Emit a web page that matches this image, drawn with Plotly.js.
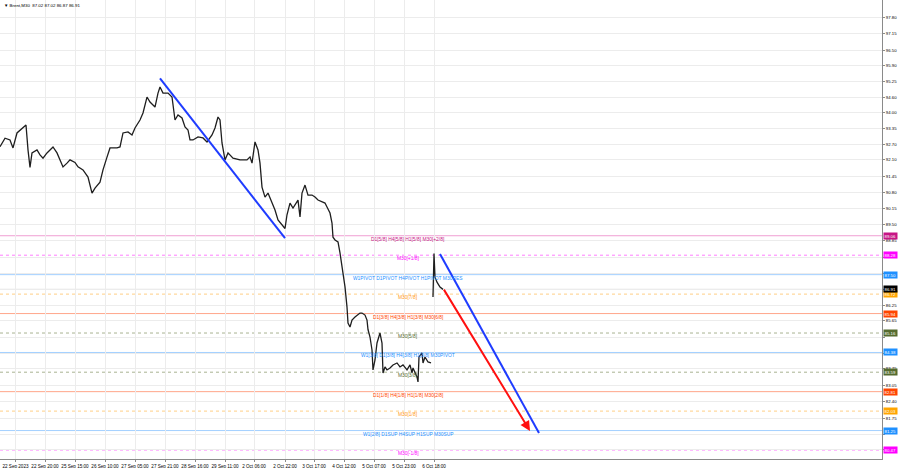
<!DOCTYPE html>
<html>
<head>
<meta charset="utf-8">
<script src="https://cdn.plot.ly/plotly-3.0.1.min.js"></script>
<style>html,body{margin:0;padding:0;background:#fff;}#chart{width:900px;height:468px;}</style>
</head>
<body>
<div id="chart"></div>
<script>
// ---- data ----
// bar position (slot along time axis) and price of the Brent M30 path
const barPos = [0,5,10,13,17,23,26,28,30,32,37,40,43,47,52,53,57,60,63,67,70,75,78,83,88,92,95,100,103,107,110,117,120,123,128,132,135,140,143,147,150,153,155,158,160,163,168,172,173,175,178,182,185,188,190,193,198,203,207,212,215,218,220,222,225,228,233,240,247,250,252,255,258,260,262,265,268,272,275,278,282,285,287,290,293,298,300,302,305,308,312,315,318,322,325,327,330,332,333,335,338,340,342,343,345,347,348,350,352,355,358,360,362,365,367,368,370,372,373,375,377,378,380,382,383,385,387,390,393,397,400,403,407,410,412,413,417,418,419,422,423,425,427,428,431,432,433,434,435,437,440,443];
const price = [92.63,92.97,92.90,92.58,93.18,93.38,93.50,92.50,91.80,92.38,92.50,92.30,92.17,92.38,92.58,92.62,92.38,92.10,91.82,91.97,92.10,92.00,91.82,91.70,91.41,90.77,90.97,91.21,91.70,92.21,92.58,92.58,92.62,93.18,93.22,93.10,93.38,93.70,93.98,94.62,94.42,94.30,94.22,94.78,95.02,94.78,94.78,94.62,94.22,93.70,93.90,93.78,93.42,93.30,92.90,92.90,93.02,92.98,92.82,93.10,93.38,93.82,93.70,92.78,92.10,92.38,92.17,92.10,92.10,92.22,91.97,92.82,92.50,91.97,91.01,90.61,90.77,90.37,90.09,89.69,89.50,89.35,89.90,90.37,90.17,90.49,89.81,90.77,91.09,90.69,90.69,90.61,90.49,90.41,90.37,90.21,89.97,89.57,89.00,88.89,88.81,88.37,87.81,87.41,87.01,86.20,85.56,85.40,85.68,85.80,85.88,85.96,85.96,85.88,85.68,85.30,85.00,84.48,83.68,84.08,84.76,84.88,85.16,84.76,83.56,83.80,83.68,83.76,83.88,83.96,83.80,83.88,83.68,83.88,83.56,83.76,83.40,83.20,84.20,84.36,83.96,84.20,84.08,84.00,83.96,null,86.60,88.35,87.40,87.20,87.00,86.91];

// Murrey / pivot levels
const levelPrices = [89.06,88.28,87.50,86.72,85.94,85.16,84.38,83.59,82.81,82.03,81.25,80.47];
const levelLabels = ["D1[5/8] H4[5/8] H1[5/8] M30[+2/8]","M30[+1/8]","W1PIVOT D1PIVOT H4PIVOT H1PIVOT M30RES","M30[7/8]","D1[3/8] H4[3/8] H1[3/8] M30[6/8]","M30[5/8]","W1[3/8] D1[3/8] H4[3/8] H1[3/8] M30PIVOT","M30[3/8]","D1[1/8] H4[1/8] H1[1/8] M30[2/8]","M30[1/8]","W1[2/8] D1SUP H4SUP H1SUP M30SUP","M30[-1/8]"];
const levelKind = ["pink","magenta","blue","orange","red","olive","blue","olive","red","orange","blue","magenta"];
const bidPrice = 86.91;

// trend lines: [barStart, priceStart, barEnd, priceEnd]
const trendBlue1 = [160, 95.37, 285, 88.96];
const trendBlue2 = [440, 88.33, 539, 81.15];
const arrowRed = [443, 86.96, 530, 81.23];

// axes
const timeTickPos = [15.5,45,75,105,135,165,195,225,254,285,314,344,374,404,434];
const timeTickText = ["22 Sep 2023","22 Sep 20:00","25 Sep 15:00","26 Sep 10:00","27 Sep 05:00","27 Sep 21:00","28 Sep 16:00","29 Sep 11:00","2 Oct 06:00","2 Oct 22:00","3 Oct 17:00","4 Oct 12:00","5 Oct 07:00","5 Oct 23:00","6 Oct 18:00"];
const priceTicks = [97.80,97.15,96.50,95.90,95.25,94.60,94.00,93.35,92.70,92.10,91.45,90.80,90.15,89.50,88.85,88.20,87.55,86.90,86.25,85.65,85.00,84.35,83.75,83.05,82.40,81.75,81.10,80.50];
// labels hidden behind the price tags in the reference
const hiddenTicks = [88.20,87.55,86.90,85.00,84.35,81.10,80.50];
const headerText = "\u25BC Brent,M30  87.02 87.02 86.87 86.91";

// ---- styles ----
const style = {
  pink:    {line:"#f09fd3", dash:"solid", text:"#c71585", tag:"#c71585"},
  magenta: {line:"#ff7dff", dash:"3px,3px", text:"#ff00ff", tag:"#ff00ff"},
  blue:    {line:"#a3d0ff", dash:"solid", text:"#1e90ff", tag:"#1e90ff"},
  orange:  {line:"#ffcf85", dash:"3px,3px", text:"#ff9a1a", tag:"#ffa500"},
  red:     {line:"#ffa68a", dash:"solid", text:"#ff4500", tag:"#ff4500"},
  olive:   {line:"#a9b391", dash:"3px,3px", text:"#556b2f", tag:"#556b2f"}
};
const FONT = "Liberation Sans, Arial, sans-serif";

const shapes = [];
const annotations = [];
levelPrices.forEach((p,i)=>{
  const s = style[levelKind[i]];
  shapes.push({type:"line", xref:"paper", x0:0, x1:1, yref:"y", y0:p, y1:p, layer:"below",
    line:{color:s.line, width:1, dash:s.dash}});
  annotations.push({x:408, y:p, xref:"x", yref:"y", text:levelLabels[i], showarrow:false,
    xanchor:"center", yanchor:"top", yshift:1, font:{family:FONT, size:4.9, color:s.text}});
  annotations.push({x:1, xref:"paper", xanchor:"left", xshift:1, y:p, yref:"y", yanchor:"middle",
    text:p.toFixed(2), showarrow:false, bgcolor:s.tag, borderpad:0.6,
    font:{family:FONT, size:4.3, color:"#ffffff"}});
});
shapes.push({type:"line", xref:"paper", x0:0, x1:1, yref:"y", y0:bidPrice, y1:bidPrice, layer:"below",
  line:{color:"#c9c9c9", width:1}});
annotations.push({x:1, xref:"paper", xanchor:"left", xshift:1, y:bidPrice, yref:"y", yanchor:"middle",
  text:bidPrice.toFixed(2), showarrow:false, bgcolor:"#000000", borderpad:0.6,
  font:{family:FONT, size:4.3, color:"#ffffff"}});

[trendBlue1, trendBlue2].forEach(t=>{
  shapes.push({type:"line", xref:"x", yref:"y", x0:t[0], y0:t[1], x1:t[2], y1:t[3],
    line:{color:"#1f3cff", width:2}});
});
annotations.push({x:arrowRed[2], y:arrowRed[3], ax:arrowRed[0], ay:arrowRed[1], xref:"x", yref:"y",
  axref:"x", ayref:"y", text:"", showarrow:true, arrowhead:2, arrowsize:1, arrowwidth:2, arrowcolor:"#ff1010"});

annotations.push({xref:"paper", yref:"paper", x:0, y:1, xanchor:"left", yanchor:"top", xshift:2, yshift:-1,
  text:headerText, showarrow:false, font:{family:FONT, size:4.4, color:"#000"}});

const trace = {
  x: barPos, y: price, type:"scatter", mode:"lines", connectgaps:false,
  line:{color:"#1e1e1e", width:1.3}, hoverinfo:"skip"
};

const layout = {
  width:900, height:468,
  margin:{l:0, r:18, t:0, b:9, pad:0},
  paper_bgcolor:"#ffffff", plot_bgcolor:"#ffffff",
  showlegend:false,
  font:{family:FONT, size:4.4, color:"#000"},
  xaxis:{range:[0,882], tickmode:"array", tickvals:timeTickPos, ticktext:timeTickText,
    showgrid:true, gridcolor:"#ececec", gridwidth:1, zeroline:false,
    showline:true, linecolor:"#8a8a8a", linewidth:1, ticks:"outside", ticklen:2, tickcolor:"#8a8a8a",
    tickfont:{family:FONT, size:4.6, color:"#000"}, fixedrange:true},
  yaxis:{range:[80.11,98.51], side:"right", tickmode:"array", tickvals:priceTicks,
    ticktext:priceTicks.map(v=>hiddenTicks.includes(v) ? "" : v.toFixed(2)),
    showgrid:true, gridcolor:"#ececec", gridwidth:1, zeroline:false,
    showline:true, linecolor:"#8a8a8a", linewidth:1, ticks:"outside", ticklen:2, tickcolor:"#8a8a8a",
    tickfont:{family:FONT, size:4.3, color:"#000"}, fixedrange:true},
  shapes:shapes, annotations:annotations
};

Plotly.newPlot("chart", [trace], layout, {staticPlot:true, displayModeBar:false});
</script>
</body>
</html>
